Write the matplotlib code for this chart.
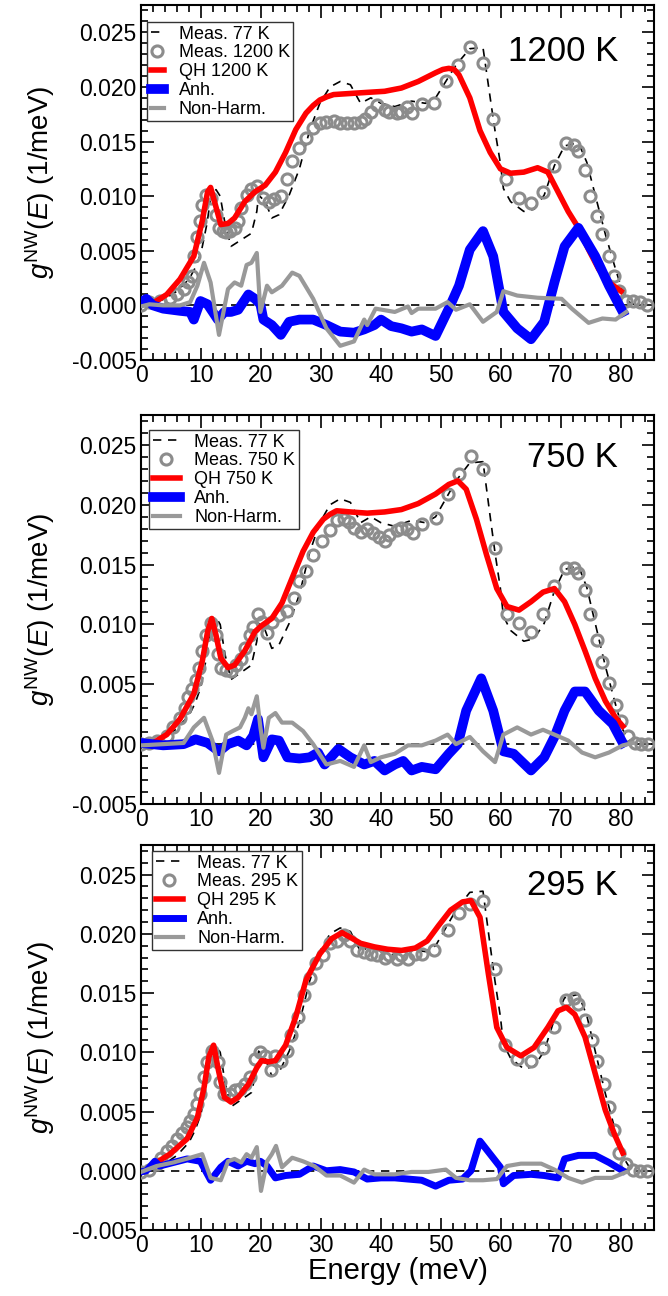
import numpy as np
import matplotlib.pyplot as plt
from matplotlib.ticker import MultipleLocator, FormatStrFormatter

plt.rcParams['font.family'] = ['Liberation Sans', 'DejaVu Sans']
plt.rcParams['axes.unicode_minus'] = False
plt.rcParams['mathtext.fontset'] = 'custom'
plt.rcParams['mathtext.it'] = 'Liberation Sans:italic'
plt.rcParams['mathtext.rm'] = 'Liberation Sans'

# measured 77 K DOS (same reference curve in every panel)
e_77 = [0, 2, 4, 6, 8, 9, 10, 11, 11.6, 12.5, 13.2, 14.0, 15.0, 16.7, 18.4, 19.3, 19.6,
        20.7, 21.8, 23.0, 24.7, 26.4, 28.1, 29.8, 31.5, 33.2, 34.9, 36.6, 38.3, 40.0,
        42.3, 45.1, 47.4, 49.1, 50.8, 52.5, 54.8, 57.0, 58.2, 59.0, 59.9, 60.4, 61.6,
        63.8, 65.5, 67.2, 68.9, 70.6, 72.9, 74.3, 75.7, 77.4, 79.1, 80.3, 81.4, 82.5]
g_77 = [0.0, 0.0002, 0.0006, 0.0013, 0.0024, 0.0034, 0.0048, 0.0075, 0.0098, 0.0106,
        0.0100, 0.0075, 0.0054, 0.0060, 0.0066, 0.0086, 0.0101, 0.0095, 0.0080, 0.0083,
        0.0101, 0.0125, 0.0160, 0.0185, 0.0200, 0.0205, 0.0202, 0.0185, 0.0190, 0.0185,
        0.0182, 0.0187, 0.0185, 0.0190, 0.0205, 0.0220, 0.0235, 0.0236, 0.0190, 0.0160,
        0.0130, 0.0107, 0.0095, 0.0086, 0.0088, 0.0101, 0.0128, 0.0146, 0.0149, 0.0131,
        0.0101, 0.0065, 0.0033, 0.0012, 0.0003, 0.0]

# ---- 1200 K ----
e_m1200 = [0, 1.4, 3.1, 4.8, 6.0, 7.1, 7.9, 8.5, 8.8, 9.4, 9.9, 10.2, 10.8, 11.6, 12.5, 13.0,
           13.6, 14.2, 14.8, 15.6, 16.2, 16.7, 17.6, 18.4, 19.3, 20.4, 21.3, 22.1, 23.3,
           24.4, 25.2, 26.4, 27.5, 28.7, 29.8, 30.9, 32.1, 33.2, 34.3, 35.5, 36.6, 37.4,
           38.3, 39.4, 40.6, 41.4, 42.6, 43.4, 44.3, 45.1, 46.8, 48.8, 50.8, 52.8, 54.9,
           57.0, 58.7, 60.9, 63.0, 65.0, 67.0, 68.9, 70.9, 72.1, 72.9, 74.0, 74.9, 76.0,
           76.9, 78.0, 78.9, 79.7, 80.9, 82.0, 83.1, 84.3]
g_m1200 = [0.0, 0.0003, 0.0004, 0.0007, 0.0010, 0.0015, 0.0021, 0.0027, 0.0045, 0.0063,
           0.0077, 0.0092, 0.0101, 0.0098, 0.0083, 0.0071, 0.0068, 0.0067, 0.0068, 0.0071,
           0.0077, 0.0089, 0.0101, 0.0107, 0.0109, 0.0098, 0.0095, 0.0097, 0.0100, 0.0116,
           0.0132, 0.0144, 0.0153, 0.0162, 0.0167, 0.0168, 0.0169, 0.0167, 0.0167, 0.0167,
           0.0168, 0.0171, 0.0177, 0.0183, 0.0179, 0.0177, 0.0176, 0.0177, 0.0182, 0.0176,
           0.0184, 0.0185, 0.0205, 0.0220, 0.0237, 0.0222, 0.0171, 0.0116, 0.0098, 0.0094,
           0.0104, 0.0128, 0.0149, 0.0147, 0.0141, 0.0124, 0.0100, 0.0082, 0.0065, 0.0045,
           0.0027, 0.0013, 0.0004, 0.0004, 0.0003, 0.0]
e_qh1200 = [2.0, 4.3, 6.5, 8.8, 10.2, 11.1, 11.6, 12.5, 13.3, 14.5, 15.6, 17.3, 19.0, 20.7,
            22.4, 24.1, 25.8, 27.5, 28.7, 29.8, 31.0, 32.1, 34.9, 37.7, 40.6, 43.4, 46.2,
            49.1, 50.3, 51.3, 52.2, 53.0, 54.8, 56.5, 58.2, 59.9, 61.6, 63.8, 66.1, 67.8,
            69.5, 71.2, 72.9, 74.6, 76.3, 78.0, 80.0]
g_qh1200 = [0.0002, 0.0010, 0.0024, 0.0045, 0.0077, 0.0104, 0.0108, 0.0090, 0.0074, 0.0075,
            0.0080, 0.0095, 0.0104, 0.0110, 0.0122, 0.0140, 0.0161, 0.0176, 0.0183, 0.0188,
            0.0191, 0.0193, 0.0194, 0.0195, 0.0196, 0.0199, 0.0205, 0.0213, 0.0216, 0.0217,
            0.0216, 0.0211, 0.0190, 0.0160, 0.0140, 0.0125, 0.0121, 0.0122, 0.0126, 0.0122,
            0.0104, 0.0086, 0.0071, 0.0051, 0.0033, 0.0021, 0.0013]
e_anh1200 = [0, 0.9, 2.0, 3.7, 6.5, 8.2, 8.8, 9.9, 11.1, 12.8, 13.9, 15.0, 16.2, 17.9, 19.0,
             19.9, 20.4, 21.8, 23.3, 24.7, 26.4, 28.7, 30.9, 33.2, 35.5, 37.2, 38.9, 40.0,
             41.7, 43.4, 45.1, 46.8, 49.1, 51.3, 53.0, 54.8, 57.0, 58.7, 60.4, 62.7, 65.0,
             67.2, 68.9, 70.6, 72.9, 75.7, 78.0, 80.3]
g_anh1200 = [0.0003, 0.0006, 0.0, -0.0003, -0.0005, -0.0006, -0.0013, 0.0004, 0.0001,
             -0.0013, -0.0006, -0.0006, -0.0004, 0.0010, 0.0006, 0.0001, -0.0013, -0.0018,
             -0.0027, -0.0015, -0.0013, -0.0013, -0.0018, -0.0024, -0.0025, -0.0022,
             -0.0018, -0.0013, -0.0019, -0.0021, -0.0024, -0.0022, -0.0028, -0.0003,
             0.0018, 0.0051, 0.0068, 0.0045, -0.0006, -0.0021, -0.0031, -0.0015, 0.0021,
             0.0054, 0.0071, 0.0045, 0.0018, -0.0006]
e_nh1200 = [0, 1.4, 3.7, 6.5, 8.2, 9.4, 10.5, 11.6, 13.0, 14.5, 15.6, 16.7, 17.6, 18.4, 19.3,
            19.9, 21.0, 21.8, 23.5, 25.2, 26.4, 28.7, 30.9, 33.2, 35.5, 37.2, 37.7, 39.1,
            42.3, 44.5, 45.1, 46.2, 49.1, 51.1, 52.5, 54.8, 57.0, 59.3, 60.4, 62.7, 66.1,
            70.1, 71.8, 74.6, 76.9, 79.1, 80.9]
g_nh1200 = [-0.0001, 0.0001, 0.0, 0.0, 0.0003, 0.0018, 0.0039, 0.0021, -0.0027, 0.0015,
            0.0021, 0.0018, 0.0037, 0.0039, 0.0048, -0.0006, 0.0018, 0.0012, 0.0018, 0.0030,
            0.0027, 0.0006, -0.0021, -0.0037, -0.0033, -0.0013, -0.0018, -0.0003, -0.0006,
            -0.0001, -0.0007, -0.0003, -0.0003, 0.0003, -0.0004, 0.0001, -0.0015, -0.0006,
            0.0013, 0.0009, 0.0007, 0.0006, -0.0003, -0.0016, -0.0012, -0.0013, -0.0006]

# ---- 750 K ----
e_m750 = [0, 1.4, 2.6, 4.3, 5.4, 6.5, 7.4, 7.9, 8.5, 9.1, 9.6, 10.2, 10.8, 11.6, 12.5, 12.9,
          13.3, 14.2, 15.0, 15.9, 16.7, 17.3, 18.2, 18.7, 19.5, 20.1, 21.0, 21.8, 23.0, 24.4,
          25.5, 26.4, 27.5, 28.7, 30.1, 31.5, 32.6, 33.8, 34.6, 35.5, 36.6, 37.7, 38.6, 39.7,
          40.6, 41.4, 42.6, 43.4, 44.3, 45.4, 46.8, 49.1, 51.1, 53.0, 55.0, 57.0, 59.0, 61.0,
          63.0, 65.0, 67.0, 68.9, 70.9, 72.1, 72.9, 74.0, 74.9, 76.0, 76.9, 78.0, 79.1, 80.0,
          81.1, 82.3, 83.4, 84.5]
g_m750 = [0.0, 0.0001, 0.0003, 0.0007, 0.0014, 0.0022, 0.0030, 0.0039, 0.0046, 0.0054,
          0.0064, 0.0078, 0.0091, 0.0101, 0.0091, 0.0075, 0.0064, 0.0062, 0.0061, 0.0066,
          0.0071, 0.0080, 0.0091, 0.0098, 0.0109, 0.0102, 0.0093, 0.0102, 0.0108, 0.0111,
          0.0122, 0.0136, 0.0145, 0.0158, 0.0170, 0.0179, 0.0187, 0.0188, 0.0186, 0.0181,
          0.0177, 0.0180, 0.0176, 0.0173, 0.0170, 0.0175, 0.0179, 0.0181, 0.0180, 0.0176,
          0.0184, 0.0189, 0.0209, 0.0226, 0.0241, 0.0230, 0.0164, 0.0109, 0.0101, 0.0094,
          0.0109, 0.0132, 0.0147, 0.0147, 0.0143, 0.0129, 0.0109, 0.0087, 0.0069, 0.0051,
          0.0033, 0.0019, 0.0007, 0.0001, 0.0, 0.0]
e_qh750 = [2.0, 4.3, 6.5, 8.8, 10.2, 11.1, 11.8, 12.5, 13.3, 14.5, 15.6, 17.3, 19.0, 20.1,
           21.8, 23.5, 25.2, 27.0, 28.7, 30.4, 31.5, 32.6, 34.9, 37.7, 40.6, 43.4, 46.2,
           49.1, 51.3, 52.8, 54.2, 55.9, 57.6, 59.3, 61.0, 63.0, 65.0, 67.0, 68.9, 70.6,
           72.3, 74.0, 75.7, 77.4, 79.1, 80.3]
g_qh750 = [0.0001, 0.0008, 0.0021, 0.0042, 0.0069, 0.0094, 0.0105, 0.0091, 0.0072, 0.0064,
           0.0066, 0.0078, 0.0094, 0.0099, 0.0105, 0.0118, 0.0139, 0.0161, 0.0177, 0.0188,
           0.0192, 0.0195, 0.0194, 0.0193, 0.0194, 0.0196, 0.0201, 0.0209, 0.0217, 0.0220,
           0.0213, 0.0188, 0.0158, 0.0130, 0.0115, 0.0112, 0.0119, 0.0127, 0.0130, 0.0119,
           0.0100, 0.0078, 0.0055, 0.0036, 0.0022, 0.0015]
e_anh750 = [0, 3.7, 7.1, 9.1, 11.1, 13.0, 14.5, 16.2, 17.6, 18.7, 19.5, 20.4, 21.8, 23.0,
            24.4, 26.4, 28.1, 29.5, 30.6, 32.9, 34.9, 37.2, 38.9, 40.6, 42.3, 43.7, 45.1,
            46.8, 49.1, 51.3, 52.8, 54.2, 56.7, 58.7, 60.4, 62.1, 65.0, 67.2, 68.9, 70.6,
            72.3, 74.0, 76.3, 78.6, 80.3]
g_anh750 = [0.0001, -0.0001, 0.0, 0.0004, 0.0001, -0.0006, 0.0, 0.0003, -0.0001, 0.0007,
            0.0021, -0.0011, 0.0004, 0.0003, -0.0011, -0.0012, -0.0011, -0.0007, -0.0017,
            -0.0004, -0.0011, -0.0017, -0.0014, -0.0022, -0.0017, -0.0014, -0.0022, -0.0019,
            -0.0021, -0.0008, 0.0, 0.0028, 0.0055, 0.0028, -0.0006, -0.0008, -0.0022,
            -0.0011, 0.0006, 0.0028, 0.0044, 0.0044, 0.0028, 0.0017, 0.0001]
e_nh750 = [0, 3.7, 7.1, 8.8, 10.5, 11.9, 13.0, 14.2, 15.3, 16.5, 17.3, 17.9, 18.4, 19.3,
           19.9, 20.4, 21.3, 22.4, 23.5, 25.2, 27.0, 28.7, 30.9, 33.2, 35.5, 37.2, 38.3,
           40.0, 42.3, 44.5, 46.8, 49.1, 51.1, 52.5, 54.8, 57.0, 59.0, 60.4, 62.7, 65.0,
           67.0, 68.9, 71.2, 73.5, 75.7, 78.0, 80.3, 82.0]
g_nh750 = [-0.0001, 0.0, 0.0001, 0.0014, 0.0022, 0.0003, -0.0024, 0.0008, 0.0011, 0.0014,
           0.0022, 0.0030, 0.0025, 0.0040, 0.0014, -0.0003, 0.0022, 0.0026, 0.0018, 0.0018,
           0.0011, 0.0, -0.0017, -0.0014, -0.0019, -0.0001, -0.0015, -0.0011, -0.0008,
           -0.0001, -0.0001, 0.0003, 0.0008, 0.0, 0.0006, -0.0006, -0.0015, 0.0008, 0.0014,
           0.0008, 0.0012, 0.0008, 0.0003, -0.0007, -0.0011, -0.0007, -0.0001, 0.0001]

# ---- 295 K ----
e_m295 = [0, 1.4, 2.6, 3.4, 4.3, 5.1, 6.0, 6.8, 7.7, 8.2, 8.8, 9.4, 9.9, 10.5, 11.0, 11.9,
          12.9, 13.2, 13.9, 14.8, 15.6, 16.5, 17.3, 18.2, 19.0, 19.9, 20.7, 21.6, 22.4, 23.3,
          24.4, 25.0, 26.1, 27.2, 28.1, 29.2, 30.4, 31.5, 32.6, 33.8, 34.9, 36.0, 37.2, 38.3,
          39.4, 40.6, 41.4, 42.6, 43.4, 44.5, 45.7, 46.8, 48.8, 51.1, 53.0, 54.8, 57.0, 59.0,
          60.7, 62.7, 65.0, 67.0, 68.9, 70.9, 72.1, 72.9, 74.0, 75.2, 76.0, 77.2, 78.0, 78.9,
          79.7, 80.9, 82.0, 83.1, 84.3]
g_m295 = [-0.0001, 0.0001, 0.0006, 0.0011, 0.0017, 0.0021, 0.0027, 0.0032, 0.0037, 0.0042,
          0.0048, 0.0056, 0.0065, 0.0079, 0.0092, 0.0101, 0.0092, 0.0075, 0.0065, 0.0065,
          0.0068, 0.0069, 0.0073, 0.0079, 0.0094, 0.0100, 0.0097, 0.0085, 0.0097, 0.0093,
          0.0101, 0.0115, 0.0130, 0.0148, 0.0163, 0.0175, 0.0182, 0.0192, 0.0194, 0.0199,
          0.0194, 0.0186, 0.0185, 0.0183, 0.0182, 0.0180, 0.0182, 0.0179, 0.0182, 0.0179,
          0.0183, 0.0183, 0.0186, 0.0203, 0.0218, 0.0225, 0.0228, 0.0170, 0.0106, 0.0094,
          0.0093, 0.0104, 0.0121, 0.0144, 0.0146, 0.0141, 0.0127, 0.0110, 0.0093, 0.0073,
          0.0054, 0.0034, 0.0015, 0.0006, 0.0001, 0.0, 0.0]
e_qh295 = [2.6, 4.8, 7.7, 9.4, 10.5, 11.3, 12.1, 12.9, 13.9, 15.0, 16.2, 17.9, 19.3, 20.1,
           21.3, 22.4, 24.1, 25.8, 27.5, 29.8, 31.8, 33.5, 34.9, 36.6, 38.9, 41.1, 43.4,
           45.7, 47.7, 49.6, 51.6, 53.6, 55.0, 56.5, 57.9, 59.3, 61.0, 63.3, 65.5, 67.8,
           69.5, 70.9, 72.3, 74.0, 75.7, 77.4, 78.9, 80.3]
g_qh295 = [0.0007, 0.0014, 0.0027, 0.0045, 0.0070, 0.0096, 0.0106, 0.0085, 0.0062, 0.0058,
           0.0062, 0.0073, 0.0087, 0.0093, 0.0092, 0.0093, 0.0106, 0.0130, 0.0161, 0.0183,
           0.0196, 0.0201, 0.0197, 0.0192, 0.0189, 0.0187, 0.0186, 0.0188, 0.0194, 0.0207,
           0.0220, 0.0227, 0.0228, 0.0214, 0.0166, 0.0121, 0.0104, 0.0097, 0.0104, 0.0121,
           0.0135, 0.0138, 0.0132, 0.0113, 0.0082, 0.0051, 0.0031, 0.0015]
e_anh295 = [0, 0.9, 2.3, 3.1, 5.4, 7.7, 9.9, 11.6, 13.3, 14.5, 16.2, 17.6, 19.0, 19.9, 21.0,
            22.4, 24.1, 26.4, 28.7, 30.9, 33.2, 35.5, 37.7, 40.0, 42.3, 44.5, 46.8, 49.1,
            51.3, 53.6, 55.0, 56.5, 58.2, 59.9, 60.4, 62.1, 65.0, 67.2, 69.5, 70.6, 72.9,
            75.7, 78.0, 80.3]
g_anh295 = [-0.0001, 0.0, 0.0008, 0.0004, 0.0007, 0.0010, 0.0008, -0.0008, 0.0003, 0.0008,
            0.0004, 0.0008, 0.0006, 0.0008, 0.0004, -0.0006, -0.0004, -0.0003, 0.0004, 0.0,
            0.0001, -0.0001, -0.0007, -0.0006, -0.0006, -0.0007, -0.0008, -0.0013, -0.0008,
            -0.0007, 0.0, 0.0025, 0.0014, 0.0003, -0.0011, -0.0004, -0.0003, -0.0004,
            -0.0006, 0.0010, 0.0013, 0.0013, 0.0007, 0.0]
e_nh295 = [0, 2.6, 5.4, 8.2, 10.2, 11.6, 13.3, 14.5, 15.6, 16.7, 17.6, 18.4, 19.3, 20.0,
           21.0, 21.8, 22.5, 23.5, 25.2, 27.0, 28.9, 30.9, 33.2, 35.5, 37.2, 38.9, 42.3,
           45.1, 47.9, 50.8, 52.5, 54.8, 57.0, 59.3, 61.0, 63.3, 66.7, 68.9, 71.2, 73.5,
           75.7, 78.5, 80.9]
g_nh295 = [-0.0001, 0.0004, 0.0007, 0.0011, 0.0014, -0.0006, -0.0008, 0.0008, 0.0010, 0.0007,
           0.0014, 0.0011, 0.0020, -0.0017, 0.0008, 0.0014, 0.0021, 0.0003, 0.0011, 0.0008,
           0.0004, -0.0004, -0.0004, -0.0010, 0.0001, -0.0003, -0.0003, -0.0001, -0.0001,
           0.0001, -0.0006, -0.0008, -0.0008, -0.0007, 0.0004, 0.0006, 0.0006, 0.0001,
           -0.0006, -0.0010, -0.0006, -0.0006, -0.0001]

panels = [
    ('1200 K', e_m1200, g_m1200, e_qh1200, g_qh1200, e_anh1200, g_anh1200, e_nh1200, g_nh1200),
    ('750 K', e_m750, g_m750, e_qh750, g_qh750, e_anh750, g_anh750, e_nh750, g_nh750),
    ('295 K', e_m295, g_m295, e_qh295, g_qh295, e_anh295, g_anh295, e_nh295, g_nh295),
]

W, H = 668, 1296
boxes = [(141, 5, 654, 360), (141, 415, 654, 804), (141, 845, 654, 1230)]
leg_corner = [(147, 22), (149, 430), (152, 851)]   # pixel position of legend top-left
temp_y = [0.868, 0.892, 0.896]
anh_lw = [7, 7, 5]
handle_len = [0.75, 1.5, 1.5]

fig = plt.figure(figsize=(W / 100, H / 100), dpi=100)

for i, (lab, em, gm, eq, gq, ea, ga, en, gn) in enumerate(panels):
    x0, y0, x1, y1 = boxes[i]
    ax = fig.add_axes([x0 / W, 1 - y1 / H, (x1 - x0) / W, (y1 - y0) / H])

    ax.axhline(0, color='k', ls=(0, (5, 4)), lw=1.2, zorder=1)
    ax.plot(e_77, g_77, color='k', ls=(0, (5, 4)), lw=1.2, zorder=2, label='Meas. 77 K')
    ax.plot(em, gm, 'o', mfc='none', mec='#8c8c8c', mew=2.2, ms=8, zorder=3,
            label='Meas. ' + lab)
    ax.plot(eq, gq, color='#ff0000', lw=4, zorder=4, label='QH ' + lab)
    ax.plot(ea, ga, color='#0000ff', lw=anh_lw[i], zorder=5, label='Anh.')
    ax.plot(en, gn, color='#999999', lw=3, zorder=6, label='Non-Harm.')

    ax.set_xlim(0, 85.5)
    ax.set_ylim(-0.005, 0.0275)
    ax.xaxis.set_major_locator(MultipleLocator(10))
    ax.xaxis.set_minor_locator(MultipleLocator(2))
    ax.yaxis.set_major_locator(MultipleLocator(0.005))
    ax.yaxis.set_minor_locator(MultipleLocator(0.001))
    ax.yaxis.set_major_formatter(FormatStrFormatter('%.3f'))
    ax.tick_params(which='both', direction='in', top=True, right=True, labelsize=16.5,
                   width=1.2)
    ax.tick_params(which='major', length=9, pad=3)
    ax.tick_params(which='minor', length=5)
    for s in ax.spines.values():
        s.set_linewidth(1.5)

    ax.set_ylabel(r'$g^{\mathrm{NW}}(E)$ (1/meV)', fontsize=20)
    ax.yaxis.set_label_coords(-0.164, 0.5)
    ax.text(0.93, temp_y[i], lab, transform=ax.transAxes, ha='right', va='center',
            fontsize=25)

    lx, ly = leg_corner[i]
    leg = ax.legend(loc='upper left', bbox_to_anchor=((lx - x0) / (x1 - x0),
                                                      1 - (ly - y0) / (y1 - y0)),
                    borderaxespad=0, fontsize=13, handlelength=handle_len[i],
                    fancybox=False, edgecolor='#333333', framealpha=1,
                    labelspacing=0.1, borderpad=0.2, handletextpad=0.8)
    leg.get_frame().set_linewidth(1.0)

    if i == 2:
        ax.set_xlabel('Energy (meV)', fontsize=21, labelpad=0)

fig.savefig('out.png', dpi=100)
